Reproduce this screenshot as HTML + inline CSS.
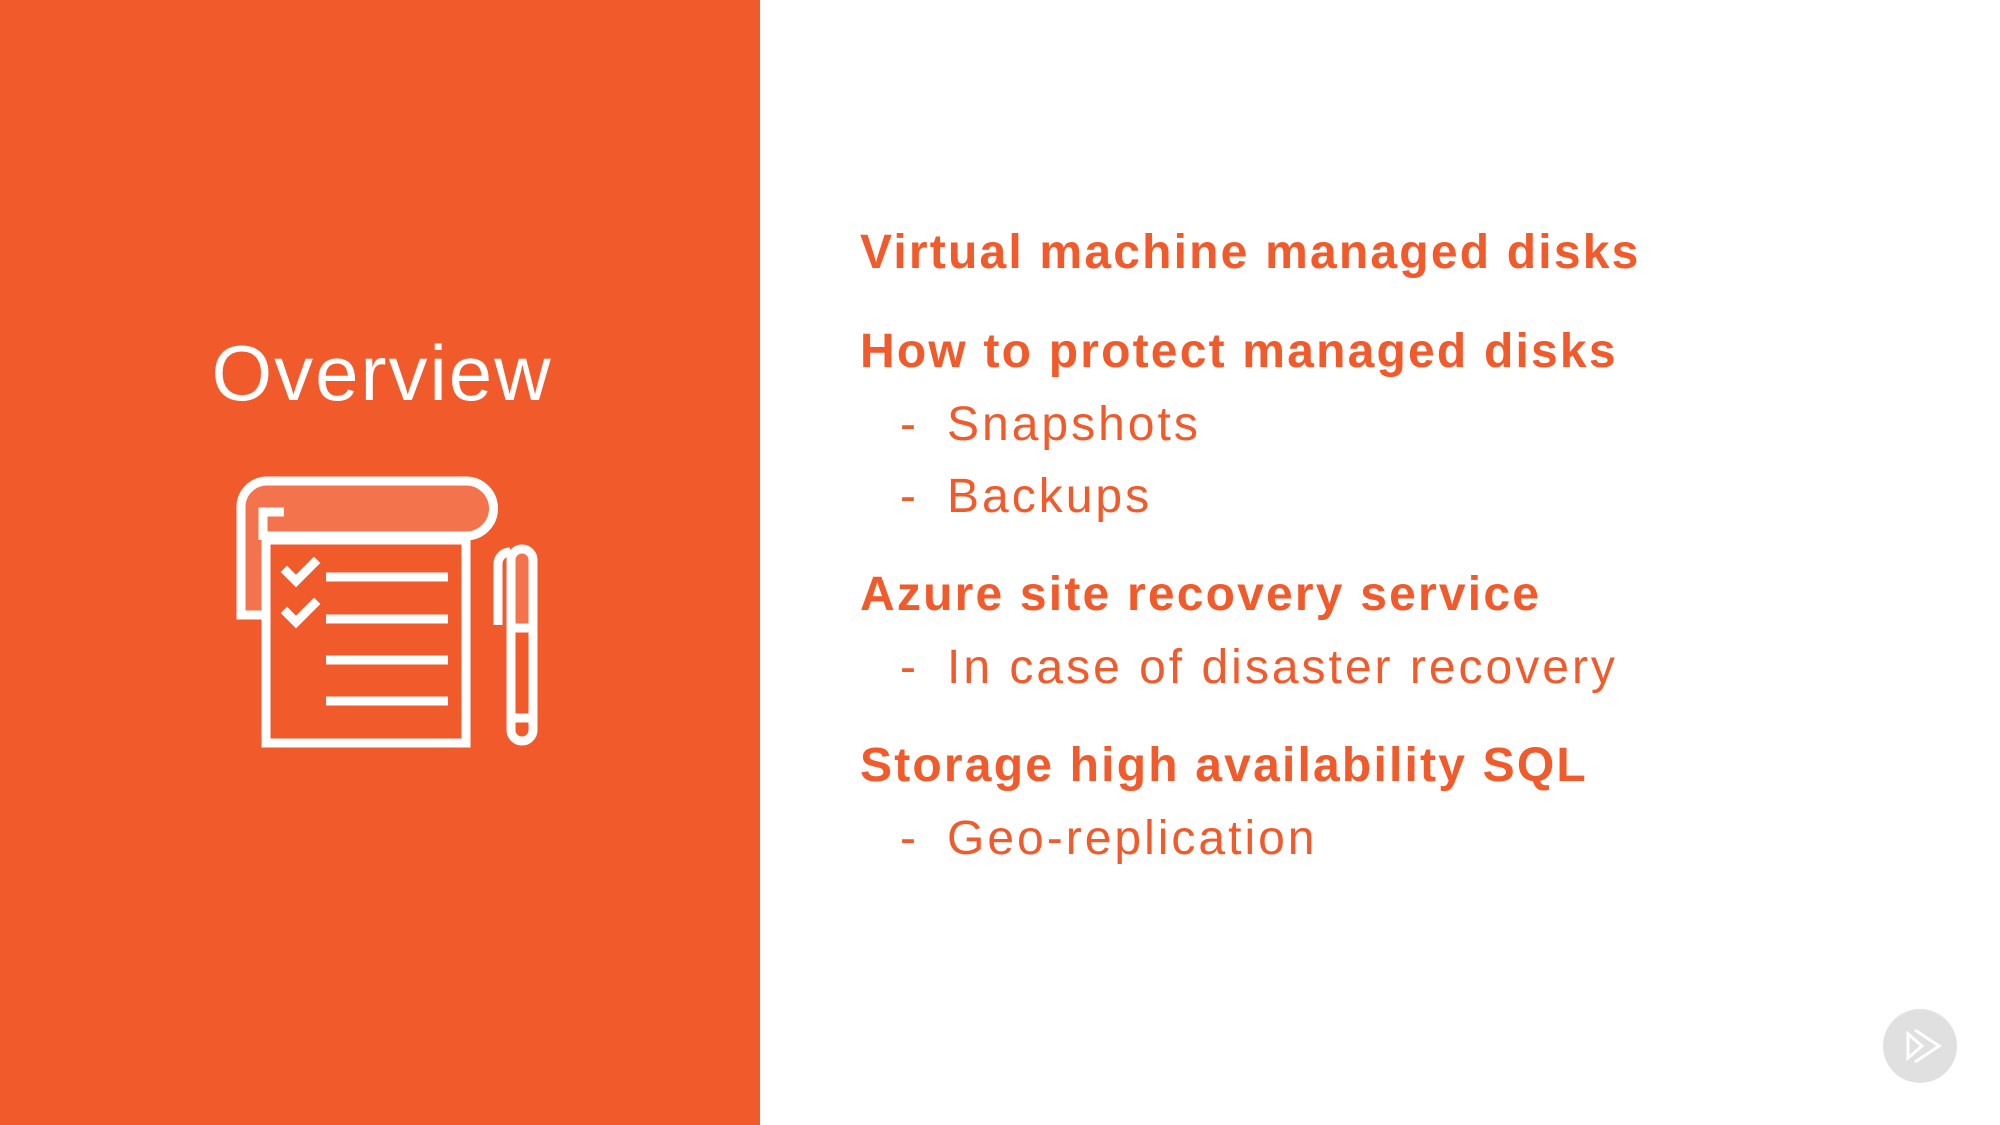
<!DOCTYPE html>
<html><head><meta charset="utf-8"><style>
html,body{margin:0;padding:0}
body{width:2000px;height:1125px;position:relative;overflow:hidden;background:#fff;font-family:"Liberation Sans",sans-serif}
#left{position:absolute;left:0;top:0;width:760px;height:1125px;background:#f15a2b}
.t{position:absolute;white-space:nowrap;color:#f15a2b;line-height:1}
.h{font-weight:bold;font-size:48px;left:860px;letter-spacing:2.2px}
.s{font-size:48px;left:947px;letter-spacing:3px}
.d{font-size:48px;left:900px}
</style></head><body>
<div id="left"></div>
<div class="t" style="left:0;width:764px;text-align:center;top:334px;font-size:78px;color:#fff;letter-spacing:2px">Overview</div>
<svg style="position:absolute;left:0;top:0" width="760" height="1125">
<g fill="none" stroke="#fff" stroke-width="9">
<path d="M263,615 H241 V505 A26,26 0 0 1 267,481 H466 A27.5,27.5 0 0 1 466,536 H267" fill="#f3744c"/>
<path d="M263,540 V512 H284" />
<rect x="266" y="540" width="200" height="203" fill="#f15a2b"/>
<path d="M326,577H448 M326,619H448 M326,660H448 M326,701H448"/>
<path d="M287,572l9,9l18,-18 M287,613l9,9l18,-18" stroke-linecap="square"/>
<path d="M498,625V563 A12,12 0 0 1 510,552" />
<path d="M511,628V560 A11,11 0 0 1 533,560 V628Z" fill="#f3744c"/>
<path d="M511,628V730 A11,11 0 0 0 533,730 V628Z M511,718H533"/>
</g>
</svg>
<div class="t h" style="top:229px">Virtual machine managed disks</div>
<div class="t h" style="top:328px">How to protect managed disks</div>
<div class="t d" style="top:401px">-</div><div class="t s" style="top:401px">Snapshots</div>
<div class="t d" style="top:473px">-</div><div class="t s" style="top:473px">Backups</div>
<div class="t h" style="top:571px">Azure site recovery service</div>
<div class="t d" style="top:644px">-</div><div class="t s" style="top:644px">In case of disaster recovery</div>
<div class="t h" style="top:742px">Storage high availability SQL</div>
<div class="t d" style="top:815px">-</div><div class="t s" style="top:815px">Geo-replication</div>
<svg style="position:absolute;left:1882px;top:1008px" width="76" height="76">
<circle cx="38" cy="38" r="37" fill="#e0e0e0"/>
<path d="M26,26 L40,38 L26,50Z M33,22 L57,38 L33,54" fill="none" stroke="#fff" stroke-width="3"/>
</svg>
</body></html>
